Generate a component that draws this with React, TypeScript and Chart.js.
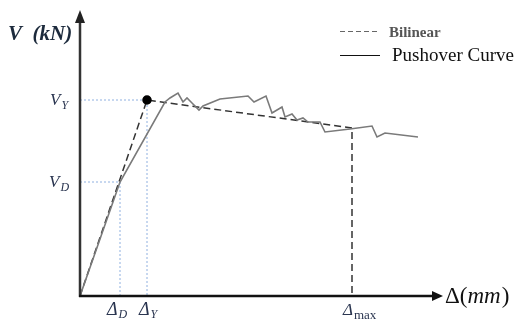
import React, { useEffect, useRef } from "react";
import { Chart, registerables } from "chart.js";
Chart.register(...registerables);

// Pushover curve (displacement, shear) (arbitrary units)
const pushoverDisp = [0, 40, 85, 90, 98, 103, 107, 112, 119, 123, 140, 168, 174, 186, 192, 202, 205, 212, 217, 223, 228, 240, 245, 270, 292, 297, 305, 338];
const pushoverShear = [0, 114, 194, 198, 203, 194, 198, 193, 186, 190, 197, 200, 194, 200, 183, 189, 179, 182, 176, 178, 174, 174, 164, 167, 170, 159, 163, 159];

// Bilinear idealisation
const bilinearDisp = [0, 67, 272, 272];
const bilinearShear = [0, 196, 168, 0];

// Key points
const deltaD = 40;
const shearD = 114;
const deltaY = 67;
const shearY = 196;
const deltaMax = 272;
const axisMaxX = 363;
const axisMaxY = 286;

// Labels
const yAxisTitle = "V  (kN)";
const xAxisTitleParts = ["Δ(", "mm", ")"];
const legendLabels = ["Bilinear", "Pushover Curve"];

const toPts = (xs: number[], ys: number[]) => xs.map((x, i) => ({ x, y: ys[i] }));

const SERIF = '"Liberation Serif", "DejaVu Serif", serif';

function drawSub(ctx: CanvasRenderingContext2D, main: string, sub: string, x: number, y: number, size: number, subSize: number, color: string, subItalic = true, subDy = 5) {
  ctx.save();
  ctx.fillStyle = color;
  ctx.textBaseline = "alphabetic";
  ctx.textAlign = "left";
  ctx.font = `italic ${size}px ${SERIF}`;
  ctx.fillText(main, x, y);
  const w = ctx.measureText(main).width;
  ctx.font = `${subItalic ? "italic " : ""}${subSize}px ${SERIF}`;
  ctx.fillText(sub, x + w + 1, y + subDy);
  ctx.restore();
}

const decorPlugin = {
  id: "decor",
  afterDatasetsDraw(chart: any) {
    const ctx: CanvasRenderingContext2D = chart.ctx;
    const xs = chart.scales.x;
    const ys = chart.scales.y;
    const x0 = xs.getPixelForValue(0);
    const y0 = ys.getPixelForValue(0);
    const xEnd = xs.getPixelForValue(axisMaxX);
    const yEnd = ys.getPixelForValue(axisMaxY);
    ctx.save();
    // y axis
    ctx.strokeStyle = "#333";
    ctx.lineWidth = 2.5;
    ctx.beginPath();
    ctx.moveTo(x0, y0 + 1);
    ctx.lineTo(x0, yEnd + 10);
    ctx.stroke();
    ctx.fillStyle = "#222";
    ctx.beginPath();
    ctx.moveTo(x0, yEnd);
    ctx.lineTo(x0 - 5, yEnd + 13);
    ctx.lineTo(x0 + 5, yEnd + 13);
    ctx.closePath();
    ctx.fill();
    // x axis
    ctx.strokeStyle = "#111";
    ctx.lineWidth = 2.5;
    ctx.beginPath();
    ctx.moveTo(x0 - 1, y0);
    ctx.lineTo(xEnd - 8, y0);
    ctx.stroke();
    ctx.fillStyle = "#111";
    ctx.beginPath();
    ctx.moveTo(xEnd, y0);
    ctx.lineTo(xEnd - 11, y0 - 5);
    ctx.lineTo(xEnd - 11, y0 + 5);
    ctx.closePath();
    ctx.fill();

    // axis titles
    ctx.fillStyle = "#1c2a3c";
    ctx.font = `italic bold 21px ${SERIF}`;
    ctx.textAlign = "left";
    ctx.textBaseline = "alphabetic";
    ctx.fillText(yAxisTitle, 8, 40);
    ctx.fillStyle = "#111";
    let tx = xEnd + 2;
    const ty = y0 + 7;
    ctx.font = `23px ${SERIF}`;
    ctx.fillText(xAxisTitleParts[0], tx, ty);
    tx += ctx.measureText(xAxisTitleParts[0]).width;
    ctx.font = `italic 23px ${SERIF}`;
    ctx.fillText(xAxisTitleParts[1], tx, ty);
    tx += ctx.measureText(xAxisTitleParts[1]).width + 1;
    ctx.font = `23px ${SERIF}`;
    ctx.fillText(xAxisTitleParts[2], tx, ty);

    // key labels
    const lab = "#2a3550";
    drawSub(ctx, "V", "Y", 50, ys.getPixelForValue(shearY) + 5, 17, 12, lab, true, 4);
    drawSub(ctx, "V", "D", 49, ys.getPixelForValue(shearD) + 5, 17, 12, lab, true, 4);
    drawSub(ctx, "Δ", "D", xs.getPixelForValue(deltaD) - 13, y0 + 19, 18, 12, lab, true, 3);
    drawSub(ctx, "Δ", "Y", xs.getPixelForValue(deltaY) - 8, y0 + 19, 18, 12, lab, true, 3);
    drawSub(ctx, "Δ", "max", xs.getPixelForValue(deltaMax) - 9, y0 + 19, 17, 13, lab, false, 4);

    // legend
    ctx.strokeStyle = "#666";
    ctx.lineWidth = 1;
    ctx.setLineDash([5, 3]);
    ctx.beginPath();
    ctx.moveTo(340, 31.5);
    ctx.lineTo(378, 31.5);
    ctx.stroke();
    ctx.setLineDash([]);
    ctx.strokeStyle = "#111";
    ctx.lineWidth = 1;
    ctx.beginPath();
    ctx.moveTo(340, 55.5);
    ctx.lineTo(380, 55.5);
    ctx.stroke();
    ctx.fillStyle = "#555";
    ctx.font = `bold 15px ${SERIF}`;
    ctx.fillText(legendLabels[0], 389, 37);
    ctx.fillStyle = "#111";
    ctx.font = `19px ${SERIF}`;
    ctx.fillText(legendLabels[1], 392, 61);
    ctx.restore();
  },
};

export default function App() {
  const ref = useRef<HTMLCanvasElement | null>(null);
  useEffect(() => {
    if (!ref.current) return;
    const guide = "#8fb0e0";
    const chart = new Chart(ref.current, {
      type: "line",
      data: {
        datasets: [
          {
            label: legendLabels[1],
            data: toPts(pushoverDisp, pushoverShear),
            borderColor: "#7a7a7a",
            borderWidth: 1.6,
            pointRadius: 0,
            tension: 0,
            order: 1,
          },
          {
            label: legendLabels[0],
            data: toPts(bilinearDisp, bilinearShear),
            borderColor: "#333",
            borderWidth: 1.5,
            borderDash: [7, 4],
            pointRadius: [0, 4, 0, 0],
            pointBackgroundColor: "#000",
            pointBorderColor: "#000",
            tension: 0,
            order: 2,
          },
          {
            label: "guideD",
            data: [{ x: 0, y: shearD }, { x: deltaD, y: shearD }, { x: deltaD, y: 0 }],
            borderColor: guide,
            borderWidth: 1,
            borderDash: [2, 2],
            pointRadius: 0,
            order: 3,
          },
          {
            label: "guideY",
            data: [{ x: 0, y: shearY }, { x: deltaY, y: shearY }, { x: deltaY, y: 0 }],
            borderColor: guide,
            borderWidth: 1,
            borderDash: [2, 2],
            pointRadius: 0,
            order: 3,
          },
        ],
      },
      options: {
        animation: false,
        responsive: false,
        devicePixelRatio: 1,
        layout: { padding: { left: 80, right: 77, top: 10, bottom: 28 } },
        plugins: { legend: { display: false }, tooltip: { enabled: false }, title: { display: false } },
        scales: {
          x: { type: "linear", min: 0, max: axisMaxX, display: false },
          y: { type: "linear", min: 0, max: axisMaxY, display: false },
        },
      },
      plugins: [decorPlugin],
    });
    return () => chart.destroy();
  }, []);
  return (
    <div style={{ position: "fixed", left: 0, top: 0, width: 520, height: 324, background: "#fff" }}>
      <canvas ref={ref} width={520} height={324} />
    </div>
  );
}
